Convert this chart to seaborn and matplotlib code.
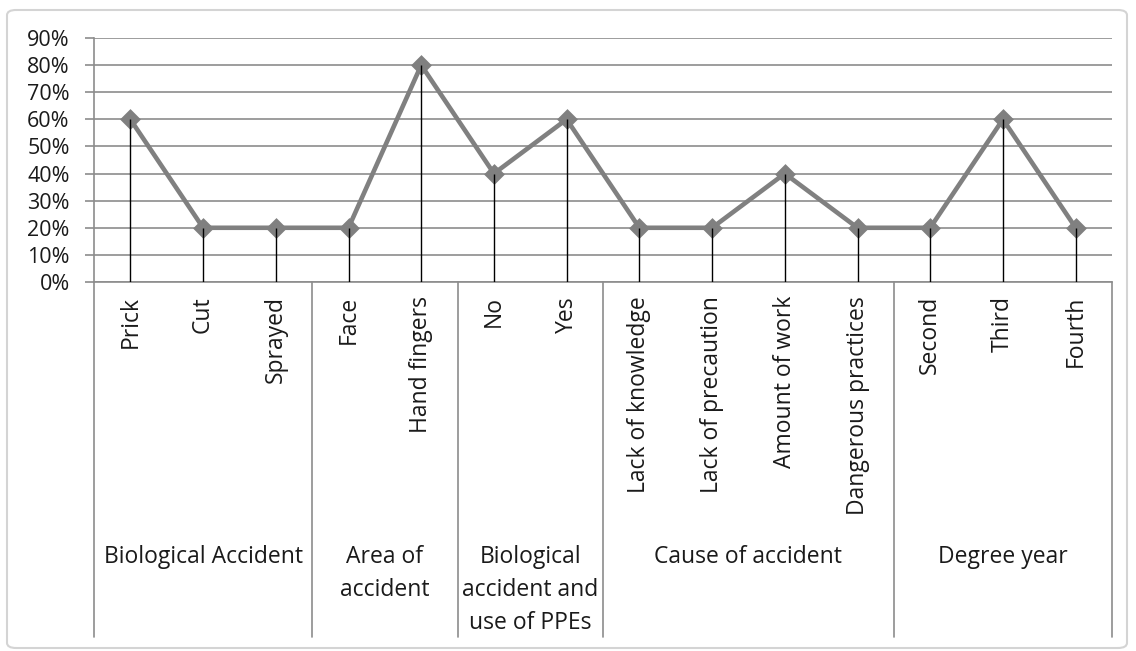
import numpy as np
import pandas as pd
import matplotlib
matplotlib.use("Agg")
import matplotlib.pyplot as plt
import matplotlib.transforms as mtransforms
from matplotlib.patches import FancyBboxPatch
import seaborn as sns

categories = ["Prick", "Cut", "Sprayed", "Face", "Hand fingers", "No", "Yes",
              "Lack of knowledge", "Lack of precaution", "Amount of work",
              "Dangerous practices", "Second", "Third", "Fourth"]
values = [0.60, 0.20, 0.20, 0.20, 0.80, 0.40, 0.60,
          0.20, 0.20, 0.40, 0.20, 0.20, 0.60, 0.20]
groups = ["Biological Accident", "Area of\naccident",
          "Biological\naccident and\nuse of PPEs", "Cause of accident", "Degree year"]
group_sizes = [3, 2, 2, 4, 3]
yticks = [0.0, 0.1, 0.2, 0.3, 0.4, 0.5, 0.6, 0.7, 0.8, 0.9]
ytick_labels = ["0%", "10%", "20%", "30%", "40%", "50%", "60%", "70%", "80%", "90%"]

sns.set_theme(style="white")
plt.rcParams["font.family"] = ["Open Sans", "DejaVu Sans"]

W, H = 1136, 651
fig = plt.figure(figsize=(W / 100, H / 100), dpi=100)
fig.patch.set_facecolor("white")

# chart area border
border = FancyBboxPatch((7 / W, 3 / H), (1127 - 7) / W, (641 - 3) / H,
                        boxstyle="round,pad=0,rounding_size=0.008",
                        transform=fig.transFigure, facecolor="none",
                        edgecolor="#d4d4d4", lw=1.5)
fig.patches.append(border)

x0, x1, ytop, ybot = 94, 1112, 38, 282
ax = fig.add_axes([x0 / W, 1 - ybot / H, (x1 - x0) / W, (ybot - ytop) / H])

df = pd.DataFrame({"category": categories, "value": values})
line_color = "#808080"
sns.pointplot(data=df, x="category", y="value", order=categories,
              color=line_color, markers="D", linestyles="-",
              ax=ax, zorder=3, markersize=8.5, linewidth=3.3)

# drop lines
xs = np.arange(len(categories))
ax.vlines(xs, 0, values, colors="black", lw=1.0, zorder=4)

ax.set_xlim(-0.5, len(categories) - 0.5)
ax.set_ylim(0, 0.9)
ax.set_yticks(yticks)
ax.set_yticklabels(ytick_labels)
ax.yaxis.grid(True, color="#8c8c8c", lw=1.2)
ax.set_axisbelow(True)
ax.set_xlabel("")
ax.set_ylabel("")
for s in ["top", "right"]:
    ax.spines[s].set_visible(False)
for s in ["left", "bottom"]:
    ax.spines[s].set_color("#8c8c8c")
    ax.spines[s].set_linewidth(1.2)
ax.tick_params(axis="y", which="major", direction="out", length=6.5, width=1.2,
               color="#8c8c8c", pad=11, labelsize=15.5, labelcolor="#1a1a1a", left=True)
ax.set_xticks(xs)
ax.set_xticklabels(categories, rotation=90, va="top", ha="center")
ax.tick_params(axis="x", length=0, pad=10, labelsize=16.5, labelcolor="#1a1a1a")

# multilevel category axis: group separators and labels
blend = mtransforms.blended_transform_factory(ax.transData, fig.transFigure)
edges = np.concatenate([[0], np.cumsum(group_sizes)]) - 0.5
for e in edges:
    ax.plot([e, e], [1 - ybot / H, 1 - 637 / H], color="#8c8c8c", lw=1.2,
            transform=blend, clip_on=False)
for g, a, b in zip(groups, edges[:-1], edges[1:]):
    ax.text((a + b) / 2, 1 - 545 / H, g, transform=blend, ha="center", va="top",
            multialignment="center", fontsize=16.5, color="#1a1a1a", linespacing=1.5)

fig.savefig("out.png", dpi=100, facecolor="white")
